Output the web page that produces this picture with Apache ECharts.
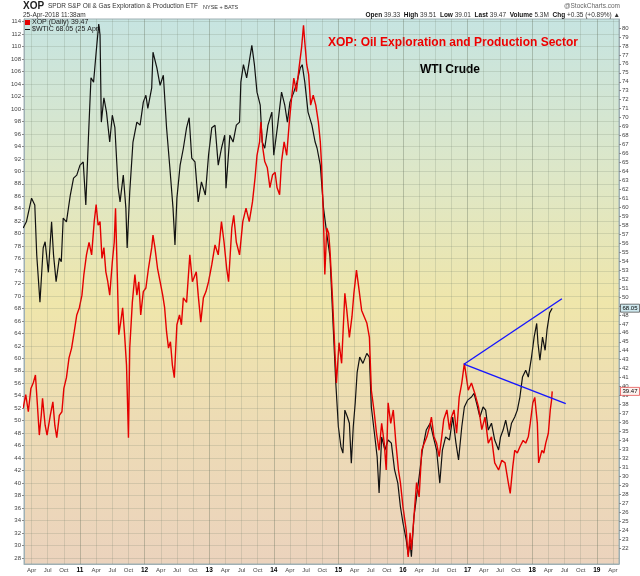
<!DOCTYPE html>
<html>
<head>
<meta charset="utf-8">
<script src="https://cdn.jsdelivr.net/npm/echarts@6/dist/echarts.min.js"></script>
<style>
html, body { margin: 0; padding: 0; background: #fff; }
#container { width: 640px; height: 576px; }
</style>
</head>
<body>
<div id="container"></div>
<script>
// WTI crude ($WTIC), left axis - time in decimal years
var wticT = [2010.12,2010.17,2010.25,2010.30,2010.33,2010.38,2010.43,2010.46,2010.51,2010.56,2010.59,2010.63,2010.68,2010.71,2010.74,2010.79,2010.85,2010.90,2010.95,
  2011.00,2011.05,2011.09,2011.13,2011.17,2011.21,2011.25,2011.29,2011.31,2011.33,2011.37,2011.41,2011.46,2011.50,2011.54,2011.59,2011.62,2011.67,2011.71,2011.73,2011.77,2011.82,2011.88,2011.93,2011.98,
  2012.02,2012.05,2012.11,2012.13,2012.19,2012.24,2012.29,2012.34,2012.39,2012.44,2012.47,2012.50,2012.55,2012.60,2012.65,2012.69,2012.73,2012.78,2012.83,2012.88,2012.94,2012.99,
  2013.04,2013.09,2013.14,2013.19,2013.24,2013.26,2013.32,2013.37,2013.42,2013.47,2013.49,2013.53,2013.58,2013.62,2013.66,2013.70,2013.74,2013.79,2013.82,2013.86,2013.91,2013.97,
  2014.00,2014.06,2014.12,2014.17,2014.21,2014.25,2014.31,2014.36,2014.41,2014.44,2014.48,2014.53,2014.59,2014.64,2014.67,2014.72,2014.77,2014.82,2014.87,2014.92,2014.96,
  2015.00,2015.04,2015.07,2015.10,2015.14,2015.17,2015.20,2015.23,2015.26,2015.29,2015.33,2015.38,2015.44,2015.48,2015.51,2015.57,2015.60,2015.63,2015.67,2015.72,2015.77,2015.82,2015.87,2015.92,2015.96,
  2016.00,2016.05,2016.08,2016.11,2016.13,2016.17,2016.21,2016.25,2016.30,2016.36,2016.42,2016.47,2016.52,2016.57,2016.61,2016.66,2016.72,2016.77,2016.82,2016.86,2016.91,2016.95,
  2017.00,2017.06,2017.10,2017.14,2017.19,2017.24,2017.28,2017.32,2017.37,2017.42,2017.48,2017.51,2017.55,2017.59,2017.64,2017.68,2017.73,2017.77,2017.81,2017.85,2017.90,2017.94,2017.99,
  2018.03,2018.07,2018.09,2018.12,2018.16,2018.20,2018.23,2018.27,2018.31];
var wticV = [80.9,81.9,85.7,84.6,76.6,69.0,77.7,78.7,73.8,81.9,76.6,72.3,76.1,75.5,82.5,81.9,86.2,88.9,89.4,
  91.0,91.5,84.6,95.3,105.0,104.3,109.1,113.6,111.9,97.9,101.8,99.5,94.7,99.0,97.0,87.4,85.1,89.4,84.1,77.7,86.7,94.7,97.9,97.4,101.1,
  102.2,100.1,103.4,109.1,106.6,103.8,105.4,97.0,90.7,84.1,78.2,85.7,91.0,93.7,97.0,98.6,92.1,91.5,85.1,88.3,86.2,92.6,
  97.0,97.4,91.0,93.7,95.8,87.3,95.8,94.7,97.4,97.9,104.3,107.1,105.0,107.6,110.2,107.1,102.7,100.6,94.7,93.7,97.4,99.5,
  92.6,97.4,102.7,100.6,97.9,101.1,102.7,104.3,106.6,107.1,104.3,99.5,97.4,94.7,93.7,91.0,84.1,80.0,76.3,65.0,56.0,
  49.0,45.8,44.8,51.7,50.6,49.6,43.2,49.0,52.8,57.7,60.2,59.2,60.8,60.2,52.2,46.9,44.2,38.4,47.4,45.3,46.9,46.4,42.1,40.0,36.2,
  33.6,30.9,28.5,30.4,28.2,34.6,37.8,41.0,45.3,48.5,49.6,47.4,45.3,40.0,45.3,47.4,46.9,50.6,46.4,43.7,49.0,52.2,
  53.3,53.8,54.4,52.8,50.6,52.2,51.7,48.5,49.6,46.9,45.3,47.4,48.5,50.1,47.4,49.6,50.6,51.7,53.8,57.0,58.1,57.0,60.2,
  63.4,65.6,62.4,59.7,63.4,61.3,64.6,67.3,68.05];

// XOP, right axis
var xopT = [2010.12,2010.16,2010.20,2010.24,2010.28,2010.31,2010.34,2010.37,2010.40,2010.42,2010.46,2010.49,2010.54,2010.58,2010.61,2010.64,2010.68,2010.72,2010.75,2010.79,2010.83,2010.87,2010.91,2010.95,2010.99,
  2011.03,2011.06,2011.10,2011.14,2011.18,2011.22,2011.25,2011.28,2011.31,2011.34,2011.37,2011.40,2011.43,2011.46,2011.50,2011.53,2011.55,2011.58,2011.60,2011.63,2011.66,2011.69,2011.72,2011.75,2011.77,2011.81,2011.85,2011.88,2011.91,2011.94,2011.98,
  2012.02,2012.06,2012.11,2012.13,2012.16,2012.20,2012.24,2012.28,2012.31,2012.34,2012.37,2012.40,2012.43,2012.46,2012.50,2012.54,2012.57,2012.60,2012.65,2012.70,2012.74,2012.80,2012.83,2012.87,2012.91,2012.95,2012.99,
  2013.04,2013.09,2013.14,2013.19,2013.23,2013.27,2013.30,2013.35,2013.38,2013.42,2013.47,2013.52,2013.57,2013.62,2013.67,2013.71,2013.74,2013.78,2013.80,2013.83,2013.86,2013.90,2013.94,2013.98,
  2014.02,2014.05,2014.09,2014.12,2014.16,2014.20,2014.24,2014.28,2014.31,2014.35,2014.39,2014.43,2014.46,2014.48,2014.51,2014.54,2014.57,2014.61,2014.65,2014.69,2014.72,2014.74,2014.77,2014.79,2014.82,2014.85,2014.87,2014.91,2014.95,2014.97,
  2015.01,2015.05,2015.10,2015.13,2015.17,2015.21,2015.24,2015.28,2015.32,2015.36,2015.40,2015.44,2015.48,2015.51,2015.55,2015.59,2015.63,2015.67,2015.71,2015.74,2015.77,2015.81,2015.85,2015.89,2015.93,2015.96,
  2016.00,2016.05,2016.08,2016.11,2016.13,2016.17,2016.21,2016.25,2016.29,2016.33,2016.37,2016.41,2016.44,2016.48,2016.52,2016.56,2016.60,2016.63,2016.68,2016.72,2016.75,2016.79,2016.83,2016.87,2016.91,2016.95,
  2017.01,2017.06,2017.11,2017.17,2017.22,2017.27,2017.32,2017.37,2017.42,2017.48,2017.53,2017.58,2017.63,2017.66,2017.70,2017.73,2017.77,2017.81,2017.86,2017.90,2017.94,2017.97,
  2018.01,2018.04,2018.08,2018.10,2018.15,2018.18,2018.21,2018.25,2018.28,2018.30,2018.31];
var xopV = [37.6,39.1,37.2,39.8,40.5,41.3,38.0,34.6,36.8,38.7,35.7,34.6,36.8,38.3,35.7,34.3,36.8,37.2,39.8,41.0,43.2,44.3,46.1,48.0,48.8,
  50.2,52.5,54.7,56.1,54.7,58.4,60.3,58.0,58.4,54.3,55.5,52.8,51.7,50.2,53.9,56.1,59.9,51.7,45.8,47.2,48.8,45.8,42.4,34.3,44.3,49.4,52.5,50.2,51.7,48.0,50.6,
  51.0,53.2,55.5,56.9,55.5,53.2,51.7,50.2,48.8,46.1,44.3,45.0,42.4,41.0,46.9,48.0,46.9,49.9,49.4,54.7,51.7,52.8,50.2,47.2,49.9,50.6,51.7,
  53.6,55.8,54.7,58.4,56.1,53.2,51.7,57.7,59.1,56.1,54.7,58.4,59.9,58.4,60.6,63.3,65.8,67.3,69.5,66.6,65.1,64.4,62.2,63.6,
  63.9,62.2,61.4,65.1,67.3,65.8,69.5,72.5,74.4,72.9,75.5,77.8,80.3,78.4,75.9,74.8,71.4,72.5,71.4,69.5,67.3,64.7,58.4,52.5,57.7,57.1,55.2,49.7,43.3,40.4,
  44.9,42.6,50.4,48.5,45.5,47.8,50.4,53.0,50.8,48.5,47.8,47.1,45.5,39.6,37.4,34.8,32.9,35.9,33.7,30.7,38.2,35.9,37.4,33.7,30.7,29.3,
  26.6,24.0,21.0,23.7,21.8,25.5,29.3,27.7,32.9,33.7,34.4,35.5,36.6,34.4,33.7,32.2,34.4,36.3,37.4,35.2,36.6,37.4,34.8,38.8,40.4,42.6,
  39.6,40.4,39.3,37.7,35.2,36.6,33.7,34.4,31.5,30.7,31.8,31.5,29.3,28.1,31.1,32.9,32.6,33.3,34.0,33.7,34.4,35.9,
  38.2,38.8,35.9,31.5,32.9,32.6,33.7,34.8,37.4,38.5,39.47];

// hand-drawn trendlines (on XOP scale)
var upperTrend = [[2016.944, 42.5], [2018.46, 49.8]];
var lowerTrend = [[2016.944, 42.5], [2018.52, 38.1]];

var monthNames = ['', 'Apr', 'Jul', 'Oct'];
var yearLines = [2011, 2012, 2013, 2014, 2015, 2016, 2017, 2018, 2019];

var quarterTicks = [];
for (var yr = 2010; yr <= 2019; yr++) {
  for (var q = 0; q < 4; q++) {
    var t = yr + q / 4;
    if (t > 2010.133 && t < 2019.344) quarterTicks.push(t);
  }
}
var leftTicks = [];
for (var v = 28; v <= 114; v += 2) leftTicks.push(v);
var rightTicks = [];
for (var r = 22; r <= 80; r++) rightTicks.push(r);

var dom = document.getElementById('container');
var myChart = echarts.init(dom, null, { renderer: 'canvas' });

var font = 'Liberation Sans';

var option = {
  animation: false,
  backgroundColor: '#fff',
  textStyle: { fontFamily: font },
  grid: {
    left: 24, right: 21, top: 19, bottom: 12,
    show: true,
    borderColor: '#9fb0b4',
    borderWidth: 1,
    backgroundColor: {
      type: 'linear', x: 0, y: 0, x2: 0, y2: 1,
      colorStops: [
        { offset: 0, color: '#c6e4e1' },
        { offset: 0.28, color: '#dde7c8' },
        { offset: 0.52, color: '#efe6ab' },
        { offset: 0.75, color: '#eddbb5' },
        { offset: 1, color: '#ebd3bd' }
      ]
    }
  },
  legend: {
    left: 25, top: 19,
    orient: 'vertical',
    itemGap: 0,
    itemWidth: 5, itemHeight: 5,
    padding: 0,
    data: [
      { name: 'XOP', icon: 'rect' },
      { name: '$WTIC', icon: 'path://M0,4 L10,4 L10,6 L0,6 Z' }
    ],
    formatter: function (name) {
      return name === 'XOP' ? 'XOP (Daily) 39.47' : '$WTIC 68.05 (25 Apr)';
    },
    textStyle: { fontSize: 7, color: '#222', lineHeight: 7, padding: [0, 0, 0, -3] }
  },
  xAxis: {
    type: 'value',
    min: 2010.133, max: 2019.344,
    axisLine: { show: true, lineStyle: { color: '#9fb0b4' } },
    axisTick: { show: false, customValues: quarterTicks },
    axisLabel: {
      customValues: quarterTicks,
      fontSize: 6, color: '#444', margin: 3,
      formatter: function (val) {
        var y = Math.floor(val + 1e-6);
        var q = Math.round((val - y) * 4);
        if (q === 0) return '{y|' + String(y).slice(2) + '}';
        return monthNames[q];
      },
      rich: { y: { fontSize: 6.5, fontWeight: 'bold', color: '#000' } }
    },
    splitLine: { show: true, lineStyle: { color: 'rgba(110,125,105,0.2)', width: 1 } }
  },
  yAxis: [
    {
      type: 'value', position: 'left',
      min: 27.02, max: 114.43,
      axisLine: { show: true, lineStyle: { color: '#9fb0b4' } },
      axisTick: { show: true, length: 2, customValues: leftTicks, lineStyle: { color: '#888' } },
      axisLabel: { customValues: leftTicks, fontSize: 6, color: '#444', margin: 3 },
      splitLine: { show: true, lineStyle: { color: 'rgba(110,125,105,0.2)', width: 1 } }
    },
    {
      type: 'value', position: 'right',
      min: 20.22, max: 81.0,
      axisLine: { show: true, lineStyle: { color: '#9fb0b4' } },
      axisTick: { show: true, length: 2, customValues: rightTicks, lineStyle: { color: '#888' } },
      axisLabel: { customValues: rightTicks, fontSize: 6, color: '#444', margin: 3 },
      splitLine: { show: false }
    }
  ],
  series: [
    {
      name: '$WTIC', type: 'line', yAxisIndex: 0,
      data: wticT.map(function (t, i) { return [t, wticV[i]]; }),
      showSymbol: false, symbol: 'none',
      lineStyle: { color: '#111', width: 1.2 },
      itemStyle: { color: '#111' },
      markPoint: {
        silent: true,
        symbol: 'rect', symbolSize: [19, 8], symbolOffset: [11, 0],
        itemStyle: { color: '#cfe9ef', borderColor: '#333', borderWidth: 0.6 },
        label: { show: true, position: 'inside', fontSize: 6, color: '#000', formatter: '68.05' },
        data: [{ coord: [2019.344, 68.05] }]
      }
    },
    {
      name: 'XOP', type: 'line', yAxisIndex: 1,
      data: xopT.map(function (t, i) { return [t, xopV[i]]; }),
      showSymbol: false, symbol: 'none',
      lineStyle: { color: '#e50000', width: 1.4 },
      itemStyle: { color: '#e50000' },
      markPoint: {
        silent: true,
        symbol: 'rect', symbolSize: [19, 8], symbolOffset: [11, 0],
        itemStyle: { color: '#fdf3f0', borderColor: '#e03030', borderWidth: 0.6 },
        label: { show: true, position: 'inside', fontSize: 6, color: '#000', formatter: '39.47' },
        data: [{ coord: [2019.344, 39.47] }]
      }
    },
    {
      name: 'upper', type: 'line', yAxisIndex: 1,
      data: upperTrend, showSymbol: false, symbol: 'none',
      lineStyle: { color: '#1515ff', width: 1.4 },
      markLine: {
        silent: true, symbol: 'none', label: { show: false },
        lineStyle: { color: 'rgba(95,105,85,0.2)', type: 'solid', width: 1 },
        data: yearLines.map(function (y) { return { xAxis: y }; })
      }
    },
    {
      name: 'lower', type: 'line', yAxisIndex: 1,
      data: lowerTrend, showSymbol: false, symbol: 'none',
      lineStyle: { color: '#1515ff', width: 1.4 }
    }
  ],
  graphic: [
    { type: 'text', left: 23, top: 1, style: { text: 'XOP', font: 'bold 10px "Liberation Sans"', fill: '#222' } },
    { type: 'text', left: 48, top: 3, style: { text: 'SPDR S&P Oil & Gas Exploration & Production ETF', font: '6.5px "Liberation Sans"', fill: '#333' } },
    { type: 'text', left: 203, top: 4, style: { text: 'NYSE + BATS', font: '5.5px "Liberation Sans"', fill: '#333' } },
    { type: 'text', left: 23, top: 12, style: { text: '25-Apr-2018 11:38am', font: '6.5px "Liberation Sans"', fill: '#333' } },
    { type: 'text', right: 20, top: 3, style: { text: '@StockCharts.com', font: '6.5px "Liberation Sans"', fill: '#666' } },
    {
      type: 'text', right: 20, top: 12,
      style: {
        text: '{b|Open} 39.33  {b|High} 39.51  {b|Low} 39.01  {b|Last} 39.47  {b|Volume} 5.3M  {b|Chg} +0.35 (+0.89%) \u25B2',
        font: '6.5px "Liberation Sans"', fill: '#333',
        rich: { b: { fontWeight: 'bold', fontSize: 6.5, fontFamily: font, fill: '#111' } }
      }
    },
    { type: 'text', left: 328, top: 37, style: { text: 'XOP: Oil Exploration and Production Sector', font: 'bold 12px "Liberation Sans"', fill: '#ee0000' } },
    { type: 'text', left: 420, top: 64, style: { text: 'WTI Crude', font: 'bold 12px "Liberation Sans"', fill: '#000' } }
  ]
};

myChart.setOption(option);
window.addEventListener('resize', myChart.resize);
</script>
</body>
</html>
